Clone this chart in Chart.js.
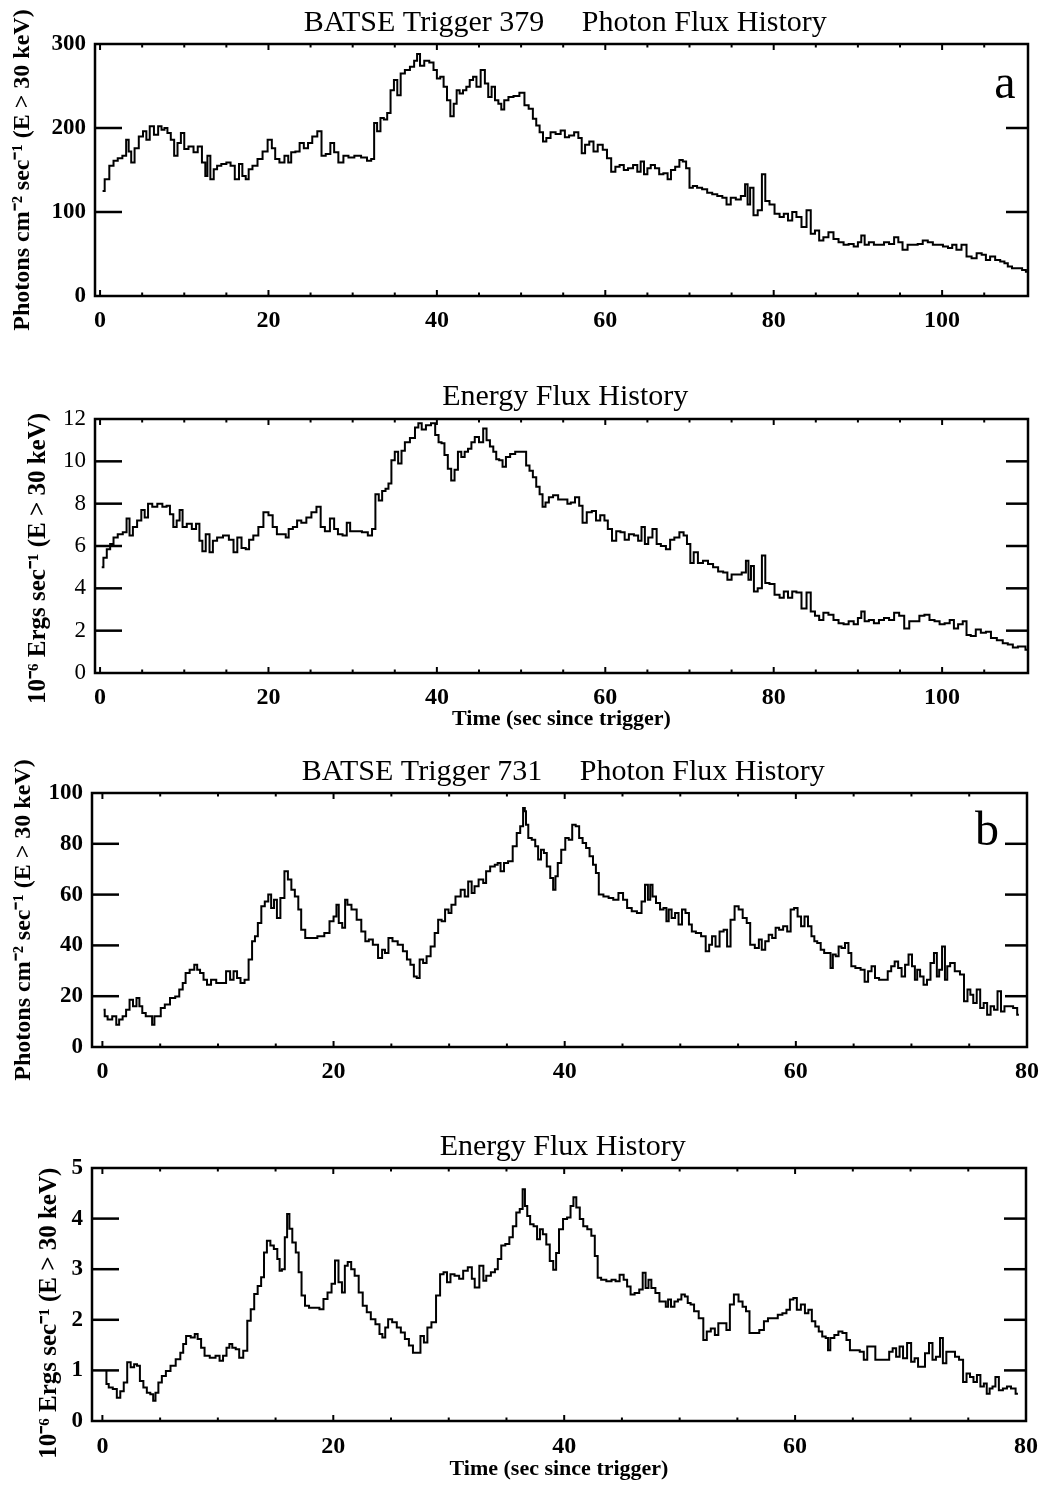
<!DOCTYPE html>
<html>
<head>
<meta charset="utf-8">
<title>BATSE Triggers 379 and 731 — Flux Histories</title>
<script src="https://cdn.jsdelivr.net/npm/chart.js@4.4.0/dist/chart.umd.min.js"></script>
<style>
  html, body { margin: 0; padding: 0; background: #fff; }
  #page { position: relative; width: 1049px; height: 1488px; overflow: hidden; }
  #page canvas { position: absolute; left: 0; }
</style>
</head>
<body>
<div id="page">
  <canvas id="c379photon" width="1049" height="345" style="top:0px"></canvas>
  <canvas id="c379energy" width="1049" height="400" style="top:345px"></canvas>
  <canvas id="c731photon" width="1049" height="365" style="top:745px"></canvas>
  <canvas id="c731energy" width="1049" height="378" style="top:1110px"></canvas>
</div>
<script>
// ---- Trigger 379: time (s since trigger) and photon flux (photons cm^-2 s^-1, E > 30 keV)
const t379photon = [0.3,0.8,1.4,1.8,2.4,2.9,3.3,3.5,3.9,4.3,4.9,5.3,5.7,6.1,6.7,7.1,7.5,7.8,8.2,8.6,
  9.0,9.4,9.8,10.2,10.8,11.4,11.8,12.4,12.6,12.9,13.3,13.7,14.1,14.7,15.3,15.7,16.3,16.7,17.1,17.5,
  17.8,18.4,19.0,19.6,20.2,20.6,21.0,21.6,22.2,22.5,22.9,23.5,23.9,24.5,24.9,25.5,26.1,26.5,27.1,27.6,
  28.0,28.6,29.2,29.8,30.6,31.4,32.0,32.4,32.7,33.1,33.5,33.9,34.3,34.7,35.1,35.5,35.9,36.5,37.1,37.5,
  37.8,38.2,38.8,39.4,39.8,40.2,40.6,41.0,41.4,41.8,42.2,42.5,42.9,43.3,43.7,44.1,44.5,44.9,45.5,45.9,
  46.3,46.7,47.1,47.5,47.8,48.2,48.8,49.4,50.2,50.6,51.2,51.6,52.0,52.4,52.8,53.2,53.8,54.4,55.0,55.4,
  56.0,56.6,57.0,57.4,57.8,58.4,58.8,59.4,60.0,60.4,61.0,61.4,62.0,62.4,63.0,63.6,64.0,64.4,64.8,65.2,
  65.6,66.2,66.6,67.2,67.6,68.0,68.6,69.0,69.4,69.8,70.2,70.6,71.2,71.8,72.4,73.0,73.6,74.2,74.6,75.2,
  75.8,76.4,76.8,77.0,77.4,77.8,78.4,78.8,79.2,79.8,80.4,81.0,81.4,82.0,82.4,83.0,83.6,84.2,84.6,85.2,
  85.6,86.2,86.8,87.4,88.0,88.6,89.2,89.8,90.2,90.6,91.0,91.6,92.2,92.8,93.4,94.0,94.6,95.0,95.6,96.2,
  96.8,97.4,98.0,98.6,99.2,99.8,100.4,101.0,101.4,102.0,102.6,103.2,103.8,104.4,105.0,105.4,106.0,106.6,107.2,107.6,
  108.0,108.6,109.2,109.8,110.1];
const photon379 = [125,139,155,161,164,167,186,172,159,176,190,196,186,202,192,202,198,200,194,186,
  167,182,194,175,178,171,178,159,143,167,139,151,155,157,159,155,139,157,143,139,
  151,155,163,172,186,176,163,159,167,159,171,172,182,176,182,190,196,167,169,182,
  171,159,167,165,167,165,161,163,206,196,212,210,218,245,257,239,265,269,273,280,
  288,274,280,278,269,259,261,249,233,214,229,245,241,245,249,257,261,249,269,253,
  237,249,233,229,222,233,237,238,242,227,223,211,203,195,184,188,195,193,197,189,
  191,195,188,170,180,184,172,180,174,164,148,154,156,150,152,156,148,160,145,152,
  156,152,145,146,139,150,154,162,160,152,129,131,129,127,123,121,119,117,109,117,
  115,119,133,109,129,96,102,145,113,109,98,94,98,90,100,94,82,102,74,78,
  66,70,76,68,64,61,62,59,64,72,61,64,61,61,64,62,70,64,55,61,
  61,62,66,64,61,61,59,57,61,55,61,47,45,51,49,43,47,43,41,39,
  35,33,33,31,29];

// ---- Trigger 379: energy flux (1e-6 erg s^-1, E > 30 keV)
const t379energy = [0.2,0.6,1.0,1.4,1.8,2.4,3.0,3.3,3.7,4.1,4.7,5.1,5.5,5.9,6.5,7.1,7.7,8.1,8.5,8.9,
  9.3,9.6,10.0,10.6,11.2,11.6,12.0,12.3,12.8,13.2,13.6,14.2,15.0,15.6,16.1,16.5,17.1,17.5,17.9,18.5,
  19.1,19.7,20.3,20.7,21.3,21.9,22.2,22.6,23.2,23.6,24.2,24.8,25.4,26.0,26.4,27.0,27.6,28.0,28.5,29.1,
  29.5,29.9,30.7,31.5,32.1,32.5,32.9,33.3,33.7,34.1,34.4,34.8,35.2,35.6,36.0,36.4,37.2,37.6,38.0,38.4,
  39.0,39.6,40.0,40.4,40.7,41.1,41.5,41.9,42.3,42.7,43.1,43.5,43.9,44.3,44.7,45.3,45.7,46.1,46.5,46.9,
  47.2,47.6,48.0,48.4,49.0,49.6,50.4,50.8,51.2,51.6,52.0,52.4,52.7,53.1,53.5,54.1,54.7,55.3,55.7,56.1,
  56.7,57.1,57.5,58.1,58.7,59.1,59.7,60.1,60.5,61.1,61.5,62.1,62.5,63.1,63.7,64.1,64.5,64.9,65.3,65.9,
  66.3,66.9,67.5,67.9,68.5,69.1,69.5,69.9,70.3,70.7,71.3,71.9,72.5,73.1,73.7,74.3,74.7,75.3,75.9,76.5,
  76.9,77.1,77.5,77.8,78.4,78.8,79.2,79.8,80.4,81.0,81.4,82.0,82.4,83.0,83.6,84.2,84.6,85.2,85.6,86.2,
  86.8,87.4,88.0,88.6,89.2,89.8,90.2,90.6,91.0,91.6,92.2,92.8,93.4,94.0,94.6,95.2,95.8,96.4,97.0,97.6,
  98.2,98.8,99.4,100.0,100.6,101.2,101.6,102.2,102.7,103.1,103.7,104.3,104.9,105.5,106.1,106.9,107.5,108.1,108.7,109.3,
  109.7,110.1];
const energy379 = [5.0,5.45,5.85,6.1,6.4,6.55,6.65,7.3,6.5,6.9,7.2,7.7,7.35,8.0,7.85,8.0,7.85,7.9,7.5,6.9,
  7.2,7.7,6.9,7.05,6.8,7.05,6.25,5.75,6.55,5.7,6.25,6.4,6.5,6.3,5.7,6.4,5.9,5.85,6.3,6.5,
  6.9,7.6,7.45,6.9,6.55,6.55,6.4,6.8,6.9,7.2,7.1,7.35,7.6,7.85,6.9,6.7,7.3,6.8,6.55,6.5,
  7.1,6.7,6.7,6.65,6.5,6.8,8.45,8.15,8.6,8.7,8.95,10.05,10.45,9.9,10.5,10.9,11.1,11.6,11.8,11.5,
  11.7,11.8,11.25,10.9,10.85,10.3,9.65,9.1,9.6,10.45,10.2,10.45,10.6,10.9,11.15,10.9,11.55,11.0,10.7,10.45,
  10.1,10.05,9.75,10.2,10.35,10.45,10.45,9.8,9.55,9.25,8.8,8.45,7.85,8.05,8.3,8.4,8.2,8.2,8.0,8.05,
  8.3,7.9,7.1,7.6,7.65,7.2,7.45,7.2,6.8,6.25,6.7,6.65,6.3,6.55,6.5,6.25,6.9,6.1,6.4,6.8,
  6.1,6.0,5.85,6.3,6.4,6.65,6.5,6.1,5.2,5.7,5.2,5.3,5.15,5.0,4.8,4.75,4.4,4.65,4.65,4.75,
  5.3,4.4,5.05,3.85,4.0,5.55,4.25,4.2,3.7,3.55,3.85,3.55,3.85,3.8,3.05,3.8,2.9,2.7,2.5,2.85,
  2.75,2.5,2.35,2.3,2.45,2.3,2.6,2.9,2.45,2.5,2.35,2.5,2.6,2.5,2.85,2.7,2.1,2.45,2.45,2.7,
  2.75,2.5,2.45,2.3,2.35,2.5,2.1,2.3,2.45,1.8,1.75,2.05,1.9,1.95,1.65,1.55,1.4,1.35,1.2,1.25,
  1.25,1.1];

// ---- Trigger 731: photon flux
const t731photon = [0.1,0.3,0.6,1.1,1.3,1.6,1.9,2.2,2.5,2.8,3.1,3.3,3.6,3.9,4.2,4.4,4.6,4.9,5.2,5.6,
  6.1,6.5,6.8,7.1,7.3,7.8,8.1,8.3,8.6,8.9,9.2,9.6,10.1,10.5,10.9,11.2,11.5,11.8,12.1,12.5,
  12.8,13.1,13.3,13.6,13.9,14.2,14.5,14.7,15.0,15.2,15.6,15.9,16.2,16.5,16.8,17.1,17.3,17.8,18.3,18.9,
  19.5,19.8,20.2,20.3,20.6,20.9,21.1,21.3,21.8,22.2,22.6,22.9,23.2,23.6,24.1,24.3,24.6,24.9,25.3,25.8,
  26.2,26.5,26.8,27.1,27.3,27.6,27.9,28.2,28.6,28.9,29.2,29.5,29.8,30.1,30.3,30.8,31.2,31.5,31.8,32.1,
  32.3,32.8,33.1,33.3,33.8,34.1,34.3,34.6,34.9,35.3,35.7,36.0,36.3,36.5,36.6,36.7,37.0,37.3,37.6,37.8,
  38.1,38.3,38.6,38.9,39.1,39.3,39.5,39.9,40.2,40.5,40.8,41.1,41.4,41.7,42.0,42.3,42.6,42.8,43.1,43.6,
  44.0,44.4,44.9,45.2,45.6,46.0,46.5,46.8,47.1,47.3,47.5,47.7,48.1,48.4,48.7,48.9,49.1,49.4,49.7,50.0,
  50.3,50.6,50.9,51.1,51.6,52.0,52.4,52.6,52.9,53.2,53.6,53.9,54.2,54.5,54.9,55.2,55.6,55.9,56.2,56.7,
  56.9,57.2,57.5,57.8,58.1,58.4,58.7,59.1,59.4,59.7,60.0,60.3,60.6,60.9,61.2,61.5,61.7,62.0,62.3,62.6,
  62.9,63.1,63.3,63.6,63.8,64.1,64.4,64.7,64.9,65.4,65.8,66.1,66.4,66.7,67.0,67.4,67.8,68.1,68.4,68.7,
  69.0,69.3,69.6,69.9,70.2,70.4,70.6,70.9,71.2,71.5,71.8,72.1,72.3,72.5,72.8,73.0,73.2,73.5,74.0,74.4,
  74.7,75.0,75.2,75.5,75.8,76.1,76.4,76.7,77.0,77.3,77.6,77.9,78.2,78.6,79.0,79.3];
const photon731 = [14.7,12.1,10.8,12.1,8.8,10.8,12.1,14.7,18.6,16.0,19.3,16.0,13.4,12.1,12.1,8.8,12.1,12.1,15.4,16.7,
  19.3,19.9,22.6,25.2,29.1,30.4,32.4,30.4,29.1,26.5,24.5,26.5,25.2,25.2,29.8,26.5,29.8,27.2,25.2,26.5,
  34.4,41.6,43.6,48.8,55.4,57.3,60.0,54.7,58.0,50.8,58.7,69.2,65.9,61.9,59.3,54.1,46.2,42.9,42.9,43.6,
  44.9,49.5,51.4,56.0,48.8,46.9,58.0,56.0,54.1,50.1,45.5,41.6,42.3,40.3,35.0,38.3,37.0,42.9,41.6,40.3,
  37.7,34.4,32.4,27.8,27.2,34.4,33.1,35.7,39.6,44.9,50.1,49.5,54.1,52.8,56.0,59.3,61.9,59.3,65.2,60.6,
  63.3,65.9,64.6,69.2,71.1,71.8,72.4,69.2,72.4,73.1,79.0,84.3,86.9,94.1,92.8,87.5,82.3,81.6,79.0,73.8,
  77.7,76.4,71.1,66.5,61.9,67.2,72.4,77.7,82.3,81.6,87.5,86.9,82.3,80.3,78.3,75.1,71.8,68.5,60.0,59.3,
  58.7,58.0,60.6,58.0,54.7,53.4,52.8,57.3,63.9,58.0,63.9,59.3,56.7,54.1,54.7,49.5,54.1,50.8,52.8,48.2,
  54.1,52.8,48.2,45.5,44.9,43.6,37.7,40.3,43.6,39.6,45.5,46.2,39.6,50.1,55.4,54.1,50.8,48.8,40.3,39.0,
  42.3,38.3,41.6,44.2,42.9,46.9,46.2,47.5,45.5,54.1,54.7,51.4,47.5,51.4,47.5,43.6,41.6,40.9,38.3,37.0,
  37.0,31.1,36.4,35.7,39.6,39.0,40.9,37.0,31.8,31.1,30.4,25.7,29.8,31.8,27.2,26.5,26.5,29.8,31.8,33.7,
  31.1,27.8,32.4,36.4,31.8,26.5,30.4,27.8,24.5,26.5,33.1,37.0,27.8,30.4,39.6,26.5,31.8,33.1,29.8,28.5,
  18.0,22.6,20.6,17.3,22.6,15.4,17.3,12.7,16.0,14.7,21.9,14.0,16.0,16.0,15.4,12.7];

// ---- Trigger 731: energy flux
const t731energy = [0.3,0.4,0.7,1.1,1.4,1.7,2.0,2.3,2.6,2.9,3.1,3.4,3.7,4.0,4.3,4.5,4.7,5.0,5.3,5.7,
  6.1,6.6,6.9,7.1,7.4,7.9,8.1,8.4,8.7,9.0,9.6,10.0,10.3,10.6,10.9,11.1,11.4,11.7,12.0,12.4,
  12.7,13.0,13.3,13.6,13.9,14.1,14.4,14.7,15.0,15.3,15.4,15.7,15.9,16.1,16.3,16.6,16.9,17.1,17.4,17.7,
  18.1,18.6,19.0,19.3,19.7,20.0,20.3,20.6,20.9,21.1,21.4,21.7,22.0,22.4,22.7,23.1,23.4,23.9,24.1,24.4,
  24.6,24.9,25.3,25.7,26.0,26.4,26.7,27.1,27.4,27.7,28.0,28.3,28.7,29.1,29.4,29.7,30.0,30.3,30.7,31.1,
  31.4,31.9,32.1,32.4,32.9,33.1,33.4,33.9,34.1,34.4,34.7,35.1,35.4,35.7,36.0,36.3,36.5,36.7,36.9,37.2,
  37.5,37.8,38.0,38.3,38.6,38.9,39.2,39.4,39.7,40.1,40.4,40.7,40.9,41.2,41.5,41.8,42.2,42.5,42.8,43.0,
  43.4,43.9,44.3,44.6,45.0,45.3,45.6,45.9,46.3,46.7,46.9,47.2,47.4,47.7,48.1,48.4,48.7,48.9,49.1,49.4,
  49.7,50.0,50.3,50.6,50.8,51.1,51.4,51.9,52.2,52.5,52.9,53.2,53.5,53.9,54.2,54.5,54.9,55.3,55.6,55.9,
  56.2,56.7,57.1,57.5,57.8,58.3,58.7,59.1,59.4,59.7,60.0,60.3,60.7,61.0,61.3,61.6,61.9,62.2,62.5,62.8,
  62.9,63.2,63.6,63.9,64.3,64.6,64.9,65.4,65.8,66.1,66.4,66.8,67.1,67.6,68.0,68.3,68.6,68.9,69.2,69.5,
  69.9,70.2,70.5,70.8,71.1,71.4,71.8,72.0,72.4,72.7,72.9,73.3,73.7,74.0,74.4,74.7,75.0,75.3,75.6,75.9,
  76.2,76.5,76.7,77.0,77.2,77.5,77.8,78.2,78.5,78.9,79.3];
const energy731 = [0.99,0.73,0.66,0.63,0.46,0.59,0.76,1.16,1.06,1.12,1.09,0.79,0.66,0.56,0.53,0.40,0.56,0.76,0.89,0.99,
  1.09,1.22,1.35,1.52,1.68,1.65,1.72,1.62,1.45,1.29,1.25,1.29,1.19,1.29,1.45,1.52,1.45,1.42,1.25,1.39,
  1.98,2.21,2.51,2.67,2.84,3.33,3.56,3.47,3.40,3.20,2.97,3.0,3.63,4.09,3.80,3.53,3.33,2.94,2.48,2.28,
  2.24,2.24,2.21,2.41,2.54,2.71,3.17,2.74,2.54,3.07,3.14,3.0,2.87,2.54,2.28,2.15,2.01,1.91,1.72,1.65,
  1.85,2.01,1.95,1.85,1.75,1.62,1.49,1.35,1.35,1.68,1.55,1.85,1.95,2.48,2.90,2.94,2.74,2.90,2.87,2.81,
  2.97,3.04,2.81,2.64,3.07,2.77,2.87,2.94,3.0,3.20,3.47,3.50,3.63,3.85,4.12,4.19,4.58,4.25,4.05,3.89,
  3.85,3.59,3.79,3.69,3.49,3.16,2.99,3.32,3.79,3.99,4.02,4.25,4.42,4.22,3.99,3.85,3.79,3.66,3.26,2.83,
  2.79,2.76,2.79,2.76,2.89,2.79,2.66,2.50,2.53,2.60,2.93,2.63,2.79,2.63,2.53,2.36,2.36,2.26,2.40,2.26,
  2.36,2.40,2.50,2.46,2.33,2.30,2.17,2.03,1.60,1.77,1.83,1.70,1.93,1.93,1.80,2.30,2.50,2.36,2.26,2.17,
  1.74,1.74,1.80,1.97,2.03,2.03,2.10,2.13,2.20,2.40,2.43,2.20,2.30,2.13,2.20,1.97,1.87,1.77,1.67,1.64,
  1.40,1.64,1.70,1.77,1.74,1.60,1.40,1.40,1.37,1.21,1.47,1.47,1.21,1.21,1.21,1.37,1.44,1.27,1.47,1.24,
  1.54,1.17,1.24,1.07,1.07,1.34,1.54,1.21,1.27,1.64,1.14,1.37,1.37,1.27,1.21,0.77,0.94,0.87,0.77,0.91,
  0.68,0.74,0.54,0.64,0.68,0.87,0.61,0.64,0.68,0.64,0.54];

// ---- Axis tick values
const timeTicks379 = [0, 20, 40, 60, 80, 100];
const timeTicks731 = [0, 20, 40, 60, 80];
const photonTicks379 = [0, 100, 200, 300];
const energyTicks379 = [0, 2, 4, 6, 8, 10, 12];
const photonTicks731 = [0, 20, 40, 60, 80, 100];
const energyTicks731 = [0, 1, 2, 3, 4, 5];

// ---- Text
const title379 = '\u00A0BATSE Trigger 379     Photon Flux History';
const title731 = '\u00A0BATSE Trigger 731     Photon Flux History';
const titleEnergy = '\u00A0Energy Flux History';
const photonLabel = 'Photons cm\u207B\u00B2 sec\u207B\u00B9 (E > 30 keV)';
const energyLabel = '10\u207B\u2076 Ergs sec\u207B\u00B9 (E > 30 keV)';
const timeLabel = 'Time (sec since trigger)';

const SERIF = "'Liberation Serif', 'Times New Roman', Times, serif";
const INK = '#000';
Chart.defaults.font.family = SERIF;
Chart.defaults.color = INK;

// Box frame with inward tick marks on all four sides
const frameTicks = {
  id: 'frameTicks',
  afterDraw(chart, args, opts) {
    const {ctx, chartArea: a, scales: {x, y}} = chart;
    const seg = (x0, y0, x1, y1) => { ctx.beginPath(); ctx.moveTo(x0, y0); ctx.lineTo(x1, y1); ctx.stroke(); };
    ctx.save();
    ctx.strokeStyle = INK;
    ctx.lineCap = 'butt';
    ctx.lineWidth = 2.5;
    ctx.strokeRect(a.left, a.top, a.right - a.left, a.bottom - a.top);
    y.ticks.forEach(t => {
      const py = y.getPixelForValue(t.value);
      if (py <= a.top + 2 || py >= a.bottom - 2) return;
      seg(a.left, py, a.left + opts.yLeft, py);
      seg(a.right - opts.yRight, py, a.right, py);
    });
    ctx.lineWidth = 2;
    const first = Math.ceil(x.min / opts.minor) * opts.minor;
    for (let v = first; v <= x.max + 1e-9; v += opts.minor) {
      const px = x.getPixelForValue(v);
      if (px <= a.left + 2 || px >= a.right - 2) continue;
      const len = Math.abs(v % opts.major) < 1e-9 ? 6 : 3.5;
      seg(px, a.bottom, px, a.bottom - len);
      seg(px, a.top, px, a.top + len);
    }
    ctx.restore();
  }
};

// Panel letter in the upper-right corner of the plot box
const panelLetter = {
  id: 'panelLetter',
  afterDraw(chart, args, opts) {
    if (!opts.text) return;
    const {ctx, chartArea: a} = chart;
    ctx.save();
    ctx.font = `${opts.size}px ${SERIF}`;
    ctx.fillStyle = INK;
    ctx.textAlign = 'center';
    ctx.textBaseline = 'alphabetic';
    ctx.fillText(opts.text, a.right - opts.dx, a.top + opts.dy);
    ctx.restore();
  }
};

const toPoints = (ts, vs) => ts.map((t, i) => ({x: t, y: vs[i]}));
const fixTicks = values => scale => { scale.ticks = values.map(v => ({value: v})); };

function makePanel(id, p) {
  return new Chart(document.getElementById(id), {
    type: 'line',
    data: {
      datasets: [{
        data: toPoints(p.t, p.v),
        stepped: 'middle',
        borderColor: INK,
        borderWidth: 2,
        pointRadius: 0,
        fill: false
      }]
    },
    options: {
      responsive: false,
      animation: false,
      devicePixelRatio: 1,
      events: [],
      layout: {padding: {top: 0, right: 21, bottom: 0, left: 0}},
      plugins: {
        legend: {display: false},
        tooltip: {enabled: false},
        title: {
          display: true, text: p.title, fullSize: false, color: INK,
          font: {family: SERIF, size: 30, weight: 'normal', lineHeight: 1.2},
          padding: {top: p.titleTop, bottom: p.titleBottom}
        },
        frameTicks: {yLeft: 27, yRight: 22, minor: 5, major: 20},
        panelLetter: p.letter || {}
      },
      scales: {
        x: {
          type: 'linear', position: 'bottom', min: p.xMin, max: p.xMax,
          afterBuildTicks: fixTicks(p.xTicks),
          afterFit: s => { s.height = p.xHeight; },
          grid: {display: false, drawTicks: false},
          border: {display: false},
          ticks: {padding: p.xPad, autoSkip: false, maxRotation: 0, color: INK,
                  font: {family: SERIF, size: 24, weight: 'bold'}},
          title: p.xTitle ? {display: true, text: p.xTitle, color: INK,
                  font: {family: SERIF, size: 22, weight: 'bold', lineHeight: 1.2},
                  padding: {top: 0, bottom: p.xTitleBottom}} : {display: false}
        },
        y: {
          type: 'linear', position: 'left', min: p.yMin, max: p.yMax,
          afterBuildTicks: fixTicks(p.yTicks),
          afterFit: s => { s.width = p.left; },
          grid: {display: false, drawTicks: false},
          border: {display: false},
          ticks: {padding: 9, autoSkip: false, color: INK,
                  font: {family: SERIF, size: 23, weight: p.yTickWeight}},
          title: {display: true, text: p.yTitle, color: INK,
                  font: {family: SERIF, size: p.yTitleSize, weight: 'bold', lineHeight: 1.2},
                  padding: {top: p.yTitlePad, bottom: 0}}
        }
      }
    },
    plugins: [frameTicks, panelLetter]
  });
}

makePanel('c379photon', {
  t: t379photon, v: photon379, title: title379, titleTop: 5, titleBottom: 3,
  xMin: -0.6, xMax: 110.2, xTicks: timeTicks379, xHeight: 49, xPad: 10,
  yMin: 0, yMax: 300, yTicks: photonTicks379, left: 95, yTickWeight: 'bold',
  yTitle: photonLabel, yTitleSize: 24, yTitlePad: 8,
  letter: {text: 'a', size: 48, dx: 23, dy: 54}
});

makePanel('c379energy', {
  t: t379energy, v: energy379, title: titleEnergy, titleTop: 34, titleBottom: 4,
  xMin: -0.6, xMax: 110.2, xTicks: timeTicks379, xHeight: 72, xPad: 10,
  xTitle: timeLabel, xTitleBottom: 12,
  yMin: 0, yMax: 12, yTicks: energyTicks379, left: 95, yTickWeight: 'normal',
  yTitle: energyLabel + '\u00A0\u00A0\u00A0\u00A0', yTitleSize: 25, yTitlePad: 24
});

makePanel('c731photon', {
  t: t731photon, v: photon731, title: title731, titleTop: 9, titleBottom: 3,
  xMin: -0.9, xMax: 80, xTicks: timeTicks731, xHeight: 63, xPad: 10,
  yMin: 0, yMax: 100, yTicks: photonTicks731, left: 92, yTickWeight: 'bold',
  yTitle: photonLabel, yTitleSize: 24, yTitlePad: 9,
  letter: {text: 'b', size: 48, dx: 40, dy: 52}
});

makePanel('c731energy', {
  t: t731energy, v: energy731, title: titleEnergy, titleTop: 19, titleBottom: 3,
  xMin: -0.9, xMax: 80, xTicks: timeTicks731, xHeight: 67, xPad: 11,
  xTitle: timeLabel, xTitleBottom: 5,
  yMin: 0, yMax: 5, yTicks: energyTicks731, left: 92, yTickWeight: 'bold',
  yTitle: energyLabel + '\u00A0\u00A0\u00A0\u00A0\u00A0\u00A0', yTitleSize: 25, yTitlePad: 35
});
</script>
</body>
</html>
